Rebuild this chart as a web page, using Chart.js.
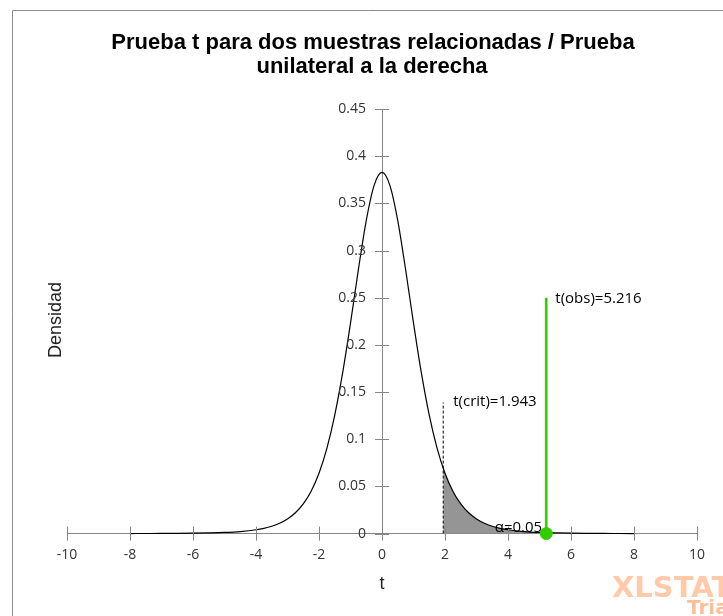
<!DOCTYPE html>
<html>
<head>
<meta charset="utf-8">
<script src="https://cdn.jsdelivr.net/npm/chart.js@4/dist/chart.umd.min.js"></script>
<style>
html,body{margin:0;padding:0;background:#fff;}
canvas{display:block;}
</style>
</head>
<body>
<canvas id="c" width="723" height="616"></canvas>
<script>
// ---- data ----
const tValues = [-8,-7.5,-7,-6.5,-6,-5.5,-5,-4.5,-4,-3.75,-3.5,-3.25,-3,-2.75,-2.5,-2.25,-2,-1.75,-1.5,-1.25,-1,-0.75,-0.5,-0.25,0,
                 0.25,0.5,0.75,1,1.25,1.5,1.75,2,2.25,2.5,2.75,3,3.25,3.5,3.75,4,4.5,5,5.5,6,6.5,7,7.5,8];
const densityValues = [0.00007,0.00011,0.00016,0.00026,0.00042,0.00071,0.00122,0.00219,0.00405,0.00560,0.00780,0.01095,0.01549,0.02204,0.03147,0.04497,0.06403,0.09038,0.12556,0.17026,0.22314,0.27971,0.33178,0.36910,0.38273,
                       0.36910,0.33178,0.27971,0.22314,0.17026,0.12556,0.09038,0.06403,0.04497,0.03147,0.02204,0.01549,0.01095,0.00780,0.00560,0.00405,0.00219,0.00122,0.00071,0.00042,0.00026,0.00016,0.00011,0.00007];
const tailT = [1.943,2,2.25,2.5,2.75,3,3.25,3.5,3.75,4,4.5,5,5.5,6,6.5,7,7.5,8];
const tailDensity = [0.06933,0.06403,0.04497,0.03147,0.02204,0.01549,0.01095,0.00780,0.00560,0.00405,0.00219,0.00122,0.00071,0.00042,0.00026,0.00016,0.00011,0.00007];
const tCrit = 1.943;
const tCritLineTop = 0.139;
const tObs = 5.216;
const tObsLineTop = 0.25;
const alpha = 0.05;
const xTickMin = -10, xTickMax = 10, xTickStep = 2;
const yTickMin = 0, yTickMax = 0.45, yTickStep = 0.05;
const titleLines = ['Prueba t para dos muestras relacionadas / Prueba', 'unilateral a la derecha'];
const xTitle = 't';
const yTitle = 'Densidad';
const critLabel = 't(crit)=1.943';
const obsLabel = 't(obs)=5.216';
const alphaLabel = '\u03b1=0.05';

// ---- build datasets ----
const curvePts = tValues.map((t,i)=>({x:t,y:densityValues[i]}));
const tailPts = tailT.map((t,i)=>({x:t,y:tailDensity[i]}));

const AXIS = '#868686';
const TICKFONT = {family:'"Open Sans"', size:14};

const decor = {
  id:'decor',
  beforeDraw(chart){
    const ctx = chart.ctx;
    ctx.save();
    ctx.fillStyle = '#fff';
    ctx.fillRect(0,0,chart.width,chart.height);
    ctx.strokeStyle = '#8c8c8c';
    ctx.lineWidth = 1;
    ctx.beginPath();
    ctx.moveTo(12.5, chart.height+5);
    ctx.lineTo(12.5, 10.5);
    ctx.lineTo(chart.width+5, 10.5);
    ctx.stroke();
    ctx.restore();
  },
  afterDraw(chart){
    const ctx = chart.ctx;
    const xs = chart.scales.x, ys = chart.scales.y;
    const x0 = xs.getPixelForValue(0), y0 = ys.getPixelForValue(0);
    ctx.save();
    // crossing tick marks (both halves)
    ctx.strokeStyle = AXIS; ctx.lineWidth = 1;
    ctx.beginPath();
    xs.ticks.forEach(t=>{ const px = Math.round(xs.getPixelForValue(t.value))+0.5; ctx.moveTo(px, y0+7); ctx.lineTo(px, y0-7); });
    ys.ticks.forEach(t=>{ const py = Math.round(ys.getPixelForValue(t.value))+0.5; ctx.moveTo(x0-7, py); ctx.lineTo(x0+7, py); });
    ctx.stroke();
    // y tick labels (from the scale's own ticks)
    ctx.fillStyle = '#333';
    ctx.font = '14px "Open Sans"';
    ctx.textAlign = 'right';
    ctx.textBaseline = 'middle';
    ys.ticks.forEach(t=>{ ctx.fillText(t.label, x0-16, ys.getPixelForValue(t.value)); });
    // annotations
    ctx.fillStyle = '#000';
    ctx.font = '15px "Open Sans"';
    ctx.textBaseline = 'middle';
    ctx.textAlign = 'left';
    ctx.fillText(critLabel, xs.getPixelForValue(tCrit)+10, ys.getPixelForValue(tCritLineTop)-1);
    ctx.fillText(obsLabel, xs.getPixelForValue(tObs)+9, ys.getPixelForValue(tObsLineTop)+1);
    ctx.textBaseline = 'alphabetic';
    ctx.fillText(alphaLabel, xs.getPixelForValue(3.58), y0-2);
    // title
    ctx.font = 'bold 22px "Liberation Sans"';
    ctx.textAlign = 'center';
    ctx.textBaseline = 'middle';
    ctx.fillText(titleLines[0], 373, 43);
    ctx.fillText(titleLines[1], 372, 67);
    // y title
    ctx.save();
    ctx.translate(56, 320);
    ctx.rotate(-Math.PI/2);
    ctx.font = '18px "Liberation Sans"';
    ctx.fillStyle = '#222';
    ctx.fillText(yTitle, 0, 0);
    ctx.restore();
    // watermark
    ctx.textAlign = 'left';
    ctx.textBaseline = 'alphabetic';
    ctx.fillStyle = '#ffc9aa';
    ctx.font = 'bold 29px "DejaVu Sans"';
    ctx.fillText('XLSTAT', 612, 597);
    ctx.fillStyle = '#fcbf98';
    ctx.font = 'bold 20px "DejaVu Sans"';
    ctx.fillText('Trial', 687, 614);
    ctx.restore();
  }
};

new Chart(document.getElementById('c'), {
  type:'scatter',
  data:{
    datasets:[
      {label:'obs point', data:[{x:tObs,y:0}], showLine:false, pointRadius:6, pointBackgroundColor:'#33cc00', pointBorderColor:'#33cc00', clip:false, order:0},
      {label:'obs line', data:[{x:tObs,y:0},{x:tObs,y:tObsLineTop}], showLine:true, borderColor:'#33cc00', borderWidth:2.5, pointRadius:0, order:1},
      {label:'density', data:curvePts, showLine:true, borderColor:'#000', borderWidth:1.2, pointRadius:0, cubicInterpolationMode:'monotone', fill:false, clip:false, order:2},
      {label:'crit line', data:[{x:tCrit,y:0},{x:tCrit,y:tCritLineTop}], showLine:true, borderColor:'#000', borderWidth:1, borderDash:[3,2], pointRadius:0, order:3},
      {label:'alpha area', data:tailPts, showLine:true, borderWidth:0, borderColor:'rgba(0,0,0,0)', backgroundColor:'#959595', fill:'origin', pointRadius:0, cubicInterpolationMode:'monotone', order:4}
    ]
  },
  options:{
    responsive:false,
    devicePixelRatio:1,
    animation:false,
    layout:{padding:{left:67, right:26, top:109, bottom:17}},
    plugins:{legend:{display:false}, tooltip:{enabled:false}, title:{display:false}},
    scales:{
      x:{
        type:'linear', position:'bottom', min:xTickMin, max:xTickMax,
        ticks:{stepSize:xTickStep, color:'#333', font:TICKFONT, padding:6, maxRotation:0},
        grid:{display:true, drawOnChartArea:false, drawTicks:true, tickLength:7, color:'rgba(0,0,0,0)'},
        border:{display:true, color:AXIS},
        title:{display:true, text:xTitle, color:'#222', font:{family:'"Liberation Sans"', size:18}, padding:{top:4, bottom:4}}
      },
      y:{
        type:'linear', position:{x:0}, min:yTickMin, max:yTickMax,
        ticks:{stepSize:yTickStep, display:false, callback:(v)=>String(+(+v).toFixed(2))},
        grid:{display:false},
        border:{display:true, color:AXIS}
      }
    }
  },
  plugins:[decor]
});
</script>
</body>
</html>
